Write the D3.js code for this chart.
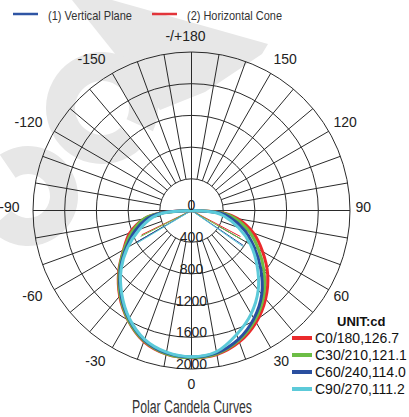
<!DOCTYPE html>
<html><head><meta charset="utf-8">
<script src="https://cdn.jsdelivr.net/npm/d3@7"></script>
<style>html,body{margin:0;padding:0;background:#fff;}svg{display:block;}</style>
</head><body>
<svg id="chart" width="409" height="417"></svg>
<script>
// ---- data ----
const angles = [-90,-85,-80,-70,-60,-50,-40,-30,-20,-10,0,10,20,30,40,50,60,70,80,85,90];
const seriesNames = ["C0/180,126.7","C30/210,121.1","C60/240,114.0","C90/270,111.2"];
const c0   = [0,420,610,830,990,1200,1410,1600,1760,1840,1860,1845,1765,1630,1455,1255,1035,830,590,430,0];
const c30  = [0,400,610,800,980,1190,1400,1595,1750,1835,1855,1835,1745,1600,1415,1195,975,775,550,400,0];
const c60  = [0,390,560,760,955,1175,1385,1580,1740,1825,1850,1825,1730,1575,1380,1140,910,705,490,360,0];
const c90  = [0,360,500,700,930,1160,1370,1570,1730,1815,1845,1810,1665,1505,1310,1080,860,630,420,300,0];
const thinAngleL = [-64,-63,-60,-59];
const thinValueL = [700,720,790,805];
const thinAngleR = [62,60,56,55];
const thinValueR = [700,730,790,800];
const ringValues = [400,800,1200,1600,2000];
const radialLabels = [0,400,800,1200,1600,2000];
const angleTicks = [0,30,60,90,120,150,180,-150,-120,-90,-60,-30];
const angleTickText = ["0","30","60","90","120","150","-/+180","-150","-120","-90","-60","-30"];
const legendTop = ["(1) Vertical Plane","(2) Horizontal Cone"];
const unitLabel = "UNIT:cd";
const title = "Polar Candela Curves";

// ---- styles ----
const colors = ["#ea2a2c","#6cbd45","#2a4f9f","#5ccad9"];
const topColors = ["#2f55a4","#e2353b"];
const cx = 191.5, cy = 210.5, R = 158.5;
const wmColor = "#e7e7e7";

const svg = d3.select("#chart");

// watermark (decorative background logo)
const wm = svg.append("g");
wm.append("path").attr("d","M72,0 L112,0 L268,44 L262,54 L205,92 L160,110 Z").attr("fill",wmColor);
wm.append("path").attr("d",d3.arc()({innerRadius:27,outerRadius:56,startAngle:-3.9,endAngle:2.0})).attr("transform","translate(102,108)").attr("fill",wmColor);
wm.append("path").attr("d",d3.arc()({innerRadius:22,outerRadius:50,startAngle:-0.6,endAngle:4.0})).attr("transform","translate(28,196)").attr("fill",wmColor);

const r = d3.scaleLinear().domain([0,2000]).range([0,R]);
const a = d3.scaleLinear().domain([-180,180]).range([2*Math.PI,0]);
const g = svg.append("g").attr("transform",`translate(${cx},${cy})`);

// grid
const grid = g.append("g").attr("stroke","#2a2a2a").attr("stroke-width",1).attr("fill","none");
grid.selectAll("circle").data(ringValues).join("circle").attr("r",d=>r(d));
const spokes = d3.range(-180,180,10);
grid.selectAll("line").data(spokes).join("line")
  .attr("x1",d=> (d%90===0 ? 0 : r(400))*Math.sin(a(d)))
  .attr("y1",d=> -(d%90===0 ? 0 : r(400))*Math.cos(a(d)))
  .attr("x2",d=> r(2000)*Math.sin(a(d)))
  .attr("y2",d=> -r(2000)*Math.cos(a(d)));

// angle labels
const lab = g.append("g").attr("font-family","'Liberation Sans',Arial,sans-serif").attr("font-size",14).attr("fill","#222");
angleTicks.forEach((t,i)=>{
  const th = t*Math.PI/180, s = Math.sin(th), c = Math.cos(th);
  let x, anchor;
  if (s>0.1){x=164*s;anchor="start";}
  else if (s<-0.1){x=172*s;anchor="end";}
  else {x=0;anchor="middle";}
  const y = 174*c - 3*(1-Math.abs(c));
  lab.append("text").attr("x",x + (t===180?-6:0)).attr("y",y).attr("dy","0.35em").attr("text-anchor",anchor).text(angleTickText[i]);
});

// curves
const all = [c0,c30,c60,c90];
const line = d3.lineRadial().angle(d=>a(d[0])).radius(d=>r(d[1])).curve(d3.curveCatmullRom.alpha(0.5));
const straight = d3.lineRadial().angle(d=>a(d[0])).radius(d=>r(d[1]));
const curves = g.append("g").attr("fill","none");
all.forEach((vals,i)=>{
  curves.append("path").attr("d",straight([[-90,0],[thinAngleL[i],thinValueL[i]]]))
    .attr("stroke",colors[i]).attr("stroke-width",1);
  curves.append("path").attr("d",straight([[90,0],[thinAngleR[i],thinValueR[i]]]))
    .attr("stroke",colors[i]).attr("stroke-width",1);
});
all.forEach((vals,i)=>{
  curves.append("path").attr("d",line(angles.map((t,j)=>[t,vals[j]])))
    .attr("stroke",colors[i]).attr("stroke-width",3).attr("stroke-linejoin","round");
});

// radial labels
const rl = g.append("g").attr("font-family","'Liberation Sans',Arial,sans-serif").attr("font-size",14).attr("fill","#222").attr("text-anchor","middle");
rl.selectAll("text").data(radialLabels).join("text").attr("x",0).attr("y",d=>r(d)-5).attr("dy","0.35em").text(d=>d);

// top legend
const tl = svg.append("g").attr("font-family","'Liberation Sans Narrow','Liberation Sans',Arial,sans-serif").attr("font-size",13.5).attr("fill","#333");
const tlx = [13,152], tlw=[84,95];
legendTop.forEach((t,i)=>{
  tl.append("line").attr("x1",tlx[i]).attr("x2",tlx[i]+25).attr("y1",14).attr("y2",14).attr("stroke",topColors[i]).attr("stroke-width",2.5);
  tl.append("text").attr("x",tlx[i]+35).attr("y",19.5).attr("textLength",tlw[i]).attr("lengthAdjust","spacingAndGlyphs").text(t);
});

// unit legend
const ul = svg.append("g").attr("font-family","'Liberation Sans',Arial,sans-serif").attr("fill","#111");
ul.append("text").attr("x",337).attr("y",321).attr("dy","0.35em").attr("font-weight","bold").attr("font-size",13).text(unitLabel);
seriesNames.forEach((n,i)=>{
  const y = 338 + i*17;
  ul.append("line").attr("x1",292).attr("x2",312).attr("y1",y).attr("y2",y).attr("stroke",colors[i]).attr("stroke-width",4);
  ul.append("text").attr("x",315).attr("y",y).attr("dy","0.35em").attr("font-size",14).text(n);
});

// title
svg.append("text").attr("x",132).attr("y",413).attr("font-family","'Liberation Sans Narrow','Liberation Sans',Arial,sans-serif")
  .attr("font-size",18).attr("fill","#333").attr("textLength",120).attr("lengthAdjust","spacingAndGlyphs").text(title);
</script>
</body></html>
